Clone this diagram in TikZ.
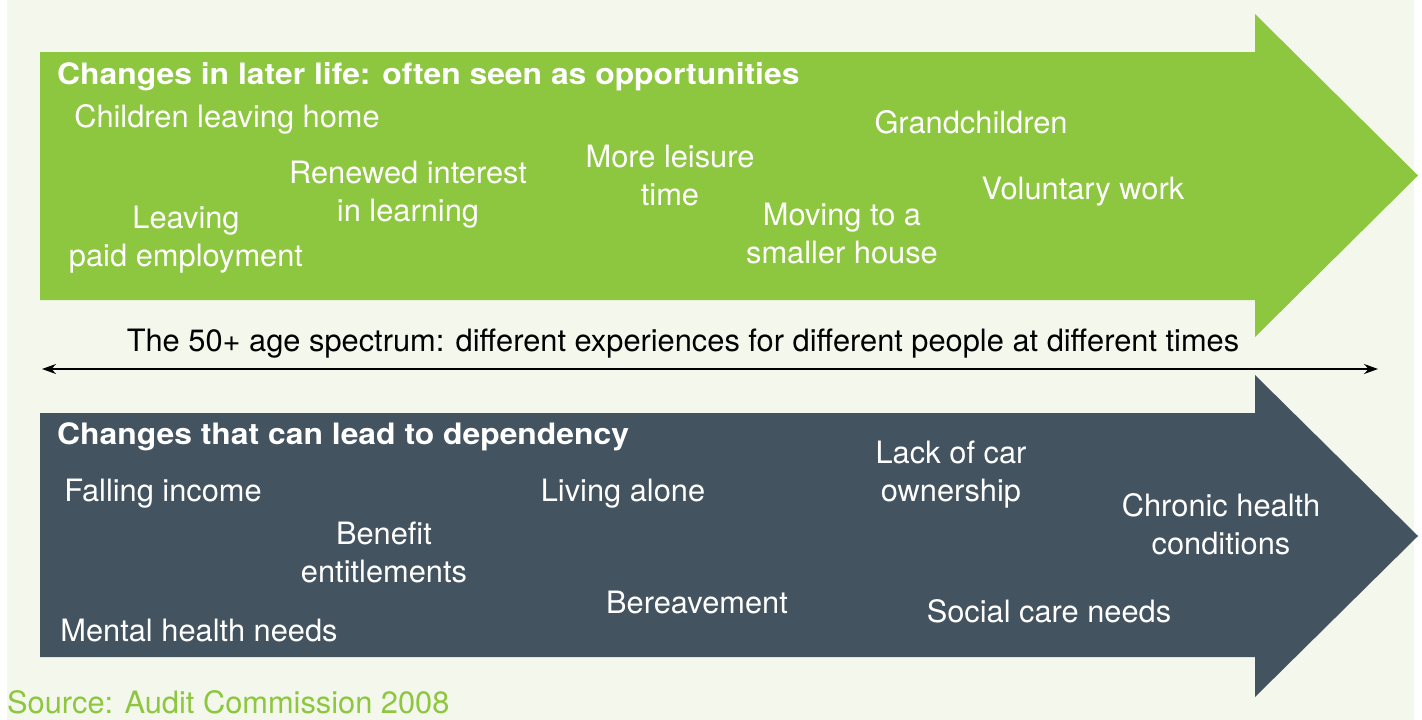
\documentclass[tikz,border=0pt]{standalone}
\usepackage{fontspec}
\setmainfont{TeX Gyre Heros}
\newfontfamily\headfont{TeX Gyre Heros}[FakeStretch=1.08]
\usetikzlibrary{arrows.meta}
\definecolor{bgc}{HTML}{F4F8EC}
\definecolor{greenc}{HTML}{8DC63F}
\definecolor{darkc}{HTML}{43535F}
\tikzset{
  item/.style={text=white, align=center, inner sep=0pt, font=\fontsize{30.8}{38}\selectfont},
  head/.style={text=white, anchor=west, inner sep=0pt, font=\headfont\bfseries\fontsize{29.5}{34}\selectfont},
}
\begin{document}
\begin{tikzpicture}[x=1pt,y=-1pt]
\useasboundingbox (0,0) rectangle (1422,720);
\fill[white] (0,0) rectangle (1422,720);
\fill[bgc] (7,0) rectangle (1414,720);
% green arrow
\fill[greenc] (40,52) -- (1255,52) -- (1255,14) -- (1418,175.5) -- (1255,337) -- (1255,300) -- (40,300) -- cycle;
% dark arrow
\fill[darkc] (40,413) -- (1255,413) -- (1255,375) -- (1418,536) -- (1255,697) -- (1255,657) -- (40,657) -- cycle;

\node[head] (h1) at (57,77) {Changes in later life: often seen as opportunities};
\node[item] (g1) at (227,119) {Children leaving home};
\node[item] (g2) at (408,195) {Renewed interest\\in learning};
\node[item] (g3) at (670,176) {More leisure\\time};
\node[item] (g4) at (971,122) {Grandchildren};
\node[item] (g5) at (1083,192) {Voluntary work};
\node[item] (g6) at (186,240) {Leaving\\paid employment};
\node[item] (g7) at (842,234) {Moving to a\\smaller house};

\node[item, text=black] (mid) at (683,344) {The 50+ age spectrum: different experiences for different people at different times};
\coordinate (la) at (42,369);
\coordinate (ra) at (1378,369);
\draw[line width=1.6pt, {Stealth[length=14pt,width=10pt]}-{Stealth[length=14pt,width=10pt]}] (la) -- (ra);

\node[head] (h2) at (57,437) {Changes that can lead to dependency};
\node[item] (d1) at (163,494) {Falling income};
\node[item] (d2) at (384,552) {Benefit\\entitlements};
\node[item] (d3) at (623,494) {Living alone};
\node[item] (d4) at (951,475) {Lack of car\\ownership};
\node[item] (d5) at (1221,524) {Chronic health\\conditions};
\node[item] (d6) at (199,630) {Mental health needs};
\node[item] (d7) at (697,602) {Bereavement};
\node[item] (d8) at (1049,611) {Social care needs};

\node[item, text=greenc, anchor=west] (src) at (7,702) {Source: Audit Commission 2008};
\end{tikzpicture}
\end{document}
